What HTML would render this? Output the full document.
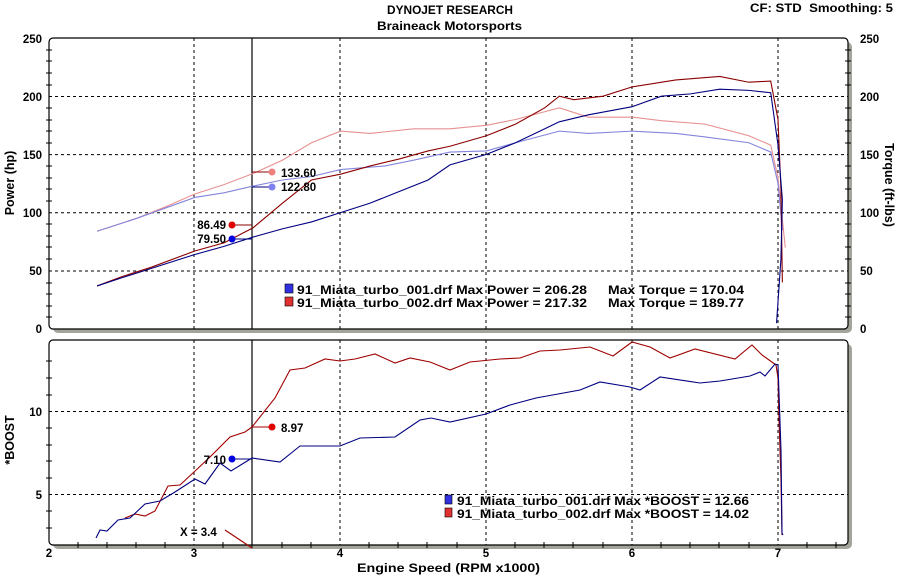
<!DOCTYPE html>
<html><head><meta charset="utf-8"><style>
html,body{margin:0;padding:0;background:#fff;}
svg{display:block;font-family:"Liberation Sans",Arial,sans-serif;font-weight:bold;}
</style></head><body>
<svg width="898" height="579" viewBox="0 0 898 579" xmlns="http://www.w3.org/2000/svg">
<rect width="898" height="579" fill="#fff"/>
<text x="387" y="14" font-size="11.5" textLength="126" lengthAdjust="spacingAndGlyphs">DYNOJET RESEARCH</text>
<text x="377" y="30" font-size="11.5" textLength="145" lengthAdjust="spacingAndGlyphs">Braineack Motorsports</text>
<text x="750" y="12" font-size="11.5" textLength="143" lengthAdjust="spacingAndGlyphs">CF: STD&#160; Smoothing: 5</text>

<rect x="53" y="42" width="799" height="291" rx="5" fill="#a4a49a"/>
<rect x="49" y="38" width="799" height="291" rx="4" fill="#fff" stroke="#000" stroke-width="1.2"/>
<rect x="53" y="344" width="799" height="205" rx="5" fill="#a4a49a"/>
<rect x="49" y="340" width="799" height="205" rx="4" fill="#fff" stroke="#000" stroke-width="1.2"/>

<g stroke="#000" stroke-width="1" stroke-dasharray="3,3">
<path d="M194,38V329M340,38V329M486,38V329M632,38V329M778,38V329"/>
<path d="M194,340V545M340,340V545M486,340V545M632,340V545M778,340V545"/>
<path d="M49,96.5H848M49,154.6H848M49,212.8H848M49,271H848"/>
<path d="M49,411.5H848M49,494.5H848"/>
</g>
<path d="M252,38V329M252,340V545" stroke="#000" stroke-width="1.2"/>

<g stroke="#000" stroke-width="1">
<path d="M46,50H52M46,61H52M46,73H52M46,85H52M46,108H52M46,120H52M46,131H52M46,143H52M46,166H52M46,178H52M46,189H52M46,201H52M46,224H52M46,236H52M46,247H52M46,259H52M46,283H52M46,294H52M46,306H52M46,317H52"/>
<path d="M845,50H851M845,61H851M845,73H851M845,85H851M845,108H851M845,120H851M845,131H851M845,143H851M845,166H851M845,178H851M845,189H851M845,201H851M845,224H851M845,236H851M845,247H851M845,259H851M845,283H851M845,294H851M845,306H851M845,317H851"/>
<path d="M46,361H52M46,378H52M46,395H52M46,428H52M46,445H52M46,461H52M46,478H52M46,511H52M46,528H52"/>
<path d="M78,542V548M107,542V548M136,542V548M165,542V548M223,542V548M252,542V548M282,542V548M311,542V548M369,542V548M398,542V548M427,542V548M457,542V548M515,542V548M544,542V548M573,542V548M603,542V548M661,542V548M690,542V548M719,542V548M749,542V548M807,542V548M836,542V548"/>
</g>

<g font-size="11.5">
<g text-anchor="end">
<text x="42" y="43">250</text><text x="42" y="101">200</text><text x="42" y="159">150</text><text x="42" y="217">100</text><text x="42" y="275">50</text><text x="42" y="333">0</text>
<text x="42" y="416">10</text><text x="42" y="499">5</text>
</g>
<g>
<text x="860" y="43">250</text><text x="860" y="101">200</text><text x="860" y="159">150</text><text x="860" y="217">100</text><text x="860" y="275">50</text><text x="860" y="333">0</text>
</g>
<g text-anchor="middle">
<text x="49" y="557">2</text><text x="194" y="557">3</text><text x="340" y="557">4</text><text x="486" y="557">5</text><text x="632" y="557">6</text><text x="778" y="557">7</text>
</g>
<text x="357" y="572" font-size="12" textLength="183" lengthAdjust="spacingAndGlyphs">Engine Speed (RPM x1000)</text>
<text transform="translate(14,183) rotate(-90)" text-anchor="middle" font-size="12.5">Power (hp)</text>
<text transform="translate(885,185) rotate(90)" text-anchor="middle" font-size="12.5">Torque (ft-lbs)</text>
<text transform="translate(14,440) rotate(-90)" text-anchor="middle" font-size="12.5">*BOOST</text>
</g>

<g transform="translate(49,329) scale(145.8,-1.164) translate(-2,0)" fill="none">
<polyline vector-effect="non-scaling-stroke" stroke="#e89090" stroke-width="1.1" points="2.33,84 2.6,95 2.8,105 3,116 3.2,124 3.4,133.6 3.6,145 3.8,160 4,170 4.2,168 4.5,172 4.75,172 5,175 5.2,180 5.5,190 5.7,182 6,182 6.2,179 6.5,176 6.8,166 6.95,158 7,130 7.05,70"/>
<polyline vector-effect="non-scaling-stroke" stroke="#8484dc" stroke-width="1.1" points="2.33,84 2.6,95 2.8,104 3,113 3.2,117 3.4,122.8 3.6,128 3.8,131 4,137 4.3,140 4.5,145 4.75,152 5,153 5.2,160 5.5,170 5.7,168 6,170 6.3,168 6.5,165 6.8,160 6.95,152 7,125 7.03,85"/>
<polyline vector-effect="non-scaling-stroke" stroke="#8b0000" stroke-width="1.1" points="2.33,37 2.5,45 2.7,53 3,67 3.2,74 3.4,87 3.6,108 3.8,128 4,133 4.2,140 4.4,146 4.6,153 4.75,157 5,166 5.2,176 5.4,190 5.5,200 5.6,197 5.8,200 6,208 6.3,214 6.6,217 6.8,212 6.95,213 7,180 7.02,120 7.03,40"/>
<polyline vector-effect="non-scaling-stroke" stroke="#000080" stroke-width="1.1" points="2.33,37 2.5,44 2.7,52 3,64 3.2,71 3.4,79 3.6,86 3.8,92 4,100 4.2,108 4.4,118 4.6,128 4.75,141 5,150 5.2,160 5.5,178 5.7,184 6,191 6.2,200 6.4,202 6.6,206 6.8,205 6.95,203 7,158 7.03,111 7.02,60 6.99,5"/>
</g>

<g fill="none" stroke-width="1.1">
<polyline stroke="#a00000" points="125,518 135,514 145,516 155,511 168,486 180,485 194,472 210,457 230,437 245,432 252,427 275,398 290,370 305,368 325,359 340,361 355,359 375,354 395,363 410,358 430,362 450,370 470,362 500,359 520,358 540,351 560,350 590,347 613,356 632,342 650,347 670,358 695,349 735,359 752,345 762,355 776,365 778,378 779,420 781,480 782,535"/>
<polyline stroke="#000080" points="96,538 100,530 107,531 118,520 130,518 145,504 160,501 175,492 195,479 205,484 220,463 231,471 252,458 280,462 300,446 340,446 360,438 395,437 420,420 431,418 450,422 486,414 510,405 536,398 580,390 600,382 630,387 640,390 660,377 700,383 720,381 750,376 760,372 765,376 775,364 778,365 781,450 782,533 783,535"/>
<polyline stroke="#a00000" points="225,530 252,548"/>
</g>

<g stroke-width="1" fill="none">
<path d="M232,225H252" stroke="#8b0000"/><path d="M232,239H252" stroke="#000080"/>
<path d="M252,172H272" stroke="#8b0000"/><path d="M252,187H272" stroke="#000080"/>
<path d="M252,427H272" stroke="#a00000"/><path d="M232,459H252" stroke="#000080"/>
</g>
<circle cx="232" cy="225" r="3.5" fill="#e00000"/>
<circle cx="232" cy="239" r="3.5" fill="#0000e0"/>
<circle cx="272" cy="172" r="3.5" fill="#f08080"/>
<circle cx="272" cy="187" r="3.5" fill="#8080f0"/>
<circle cx="272" cy="427" r="3.5" fill="#e00000"/>
<circle cx="232" cy="459" r="3.5" fill="#0000e0"/>
<g font-size="11.5">
<text x="226" y="229" text-anchor="end">86.49</text>
<text x="226" y="243" text-anchor="end">79.50</text>
<text x="281" y="177">133.60</text>
<text x="281" y="191">122.80</text>
<text x="281" y="432">8.97</text>
<text x="226" y="464" text-anchor="end">7.10</text>
<text x="180" y="536">X = 3.4</text>
</g>

<rect x="285" y="284" width="8" height="9" fill="#3030e0" stroke="#000" stroke-width="0.6"/>
<rect x="285" y="297" width="8" height="9" fill="#e03030" stroke="#000" stroke-width="0.6"/>
<g font-size="11.5">
<text x="297" y="294" textLength="290" lengthAdjust="spacingAndGlyphs">91_Miata_turbo_001.drf Max Power = 206.28</text>
<text x="297" y="307" textLength="290" lengthAdjust="spacingAndGlyphs">91_Miata_turbo_002.drf Max Power = 217.32</text>
<text x="608" y="294" textLength="136" lengthAdjust="spacingAndGlyphs">Max Torque = 170.04</text>
<text x="608" y="307" textLength="136" lengthAdjust="spacingAndGlyphs">Max Torque = 189.77</text>
</g>
<rect x="445" y="495" width="7" height="9" fill="#3030e0" stroke="#000" stroke-width="0.6"/>
<rect x="445" y="508" width="7" height="9" fill="#e03030" stroke="#000" stroke-width="0.6"/>
<g font-size="11.5">
<text x="457" y="505" textLength="292" lengthAdjust="spacingAndGlyphs">91_Miata_turbo_001.drf Max *BOOST = 12.66</text>
<text x="457" y="518" textLength="292" lengthAdjust="spacingAndGlyphs">91_Miata_turbo_002.drf Max *BOOST = 14.02</text>
</g>
</svg>
</body></html>
